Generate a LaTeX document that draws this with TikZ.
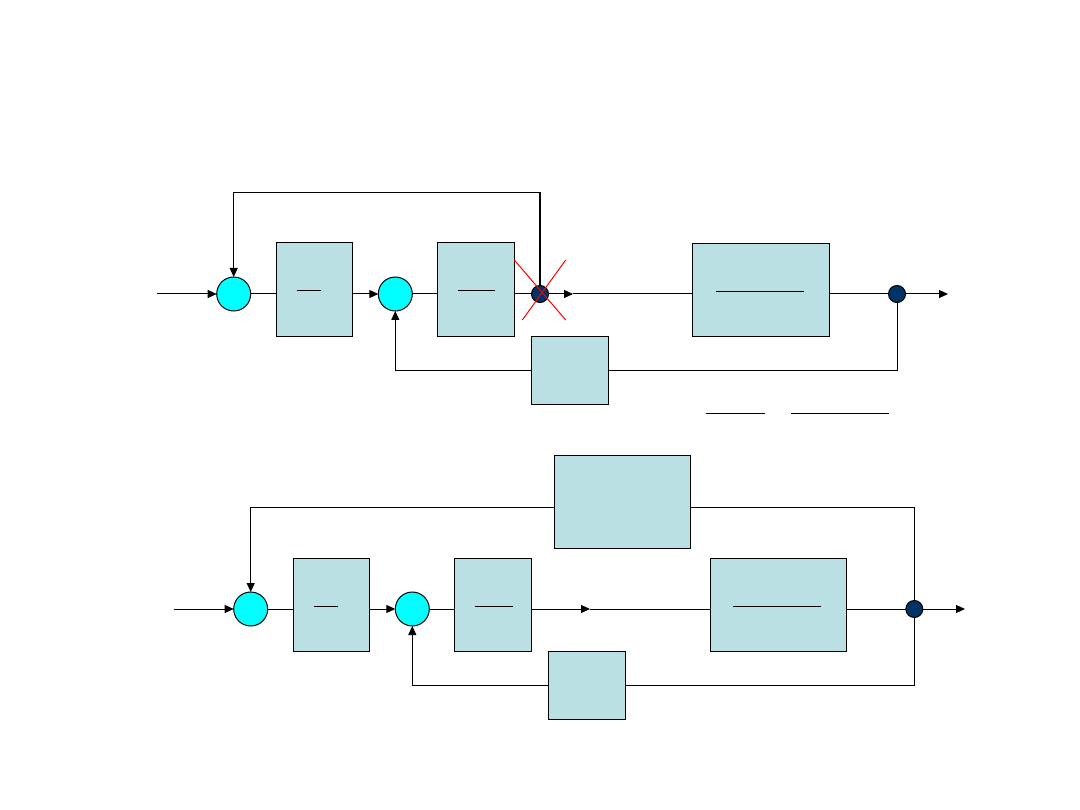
\documentclass[tikz,border=0pt]{standalone}
\usetikzlibrary{arrows.meta}
\definecolor{boxfill}{HTML}{BBE0E3}
\definecolor{sumfill}{HTML}{00FFFF}
\definecolor{dotfill}{HTML}{003366}
\begin{document}
\begin{tikzpicture}[x=1pt,y=-1pt,line width=1pt,
  blk/.style={draw,fill=boxfill,rectangle,inner sep=0pt,outer sep=0pt},
  sumj/.style={draw,fill=sumfill,circle,minimum size=34pt,inner sep=0pt,outer sep=0pt},
  pdot/.style={draw,fill=dotfill,circle,minimum size=17pt,inner sep=0pt,outer sep=0pt},
  arr/.style={-{Triangle[length=9pt,width=8pt]}},
  fbar/.style={line width=1pt}]
\useasboundingbox (0,0) rectangle (1080,810);
% ---------- top diagram ----------
\node[sumj] (s1) at (233.7,294) {};
\node[blk,minimum width=76.5pt,minimum height=93.5pt] (g1) at (314.4,289.7) {};
\node[sumj] (s2) at (395.3,294) {};
\node[blk,minimum width=77.4pt,minimum height=93.5pt] (g2) at (476,289.7) {};
\node[blk,minimum width=137pt,minimum height=93.5pt] (g3) at (761.2,290) {};
\node[blk,minimum width=77.4pt,minimum height=68pt] (h1) at (570,370.3) {};
\node[pdot] (p1) at (540,294) {};
\node[pdot] (o1) at (897,294) {};
\coordinate (in1) at (157,294);
\coordinate (a1) at (573,294);
\coordinate (out1) at (948,294);
\coordinate (tl1) at (233.7,192.3);
\coordinate (fb1) at (897,370.3);
\coordinate (fl1) at (395.3,370.3);
% fraction bars
\draw[fbar] (296.7,291) -- (321,291);
\draw[fbar] (458.3,291) -- (495,291);
\draw[fbar] (716,291.3) -- (804,291.3);
\draw[fbar] (705.7,413.3) -- (764.7,413.3);
\draw[fbar] (791.3,413.3) -- (889.3,413.3);
% connectors
\draw[arr] (in1) -- (s1.west);
\draw (s1.east) -- (s1.east -| g1.west);
\draw[arr] (g1.east |- s2.west) -- (s2.west);
\draw (s2.east) -- (s2.east -| g2.west);
\draw (g2.east |- p1.west) -- (p1.west);
\draw[arr] (p1.east) -- (a1);
\draw (a1) -- (a1 -| g3.west);
\draw (g3.east |- o1.west) -- (o1.west);
\draw[arr] (o1.east) -- (out1);
\draw[line width=2pt] (p1.north) -- (p1.north |- tl1);
\draw[arr] (p1.north |- tl1) -- (tl1) -- (s1.north);
\draw (o1.south) -- (fb1) -- (h1.east);
\draw[arr] (h1.west) -- (fl1) -- (s2.south);
% red cross
\draw[red] (514.3,260) -- (565.7,320);
\draw[red] (565.7,260) -- (522.3,320);
% ---------- bottom diagram ----------
\node[sumj] (s1b) at (250.7,609) {};
\node[blk,minimum width=76pt,minimum height=92.7pt] (g1b) at (331.3,604.7) {};
\node[sumj] (s2b) at (412.3,609) {};
\node[blk,minimum width=77.4pt,minimum height=92.7pt] (g2b) at (493,604.7) {};
\node[blk,minimum width=136pt,minimum height=92.7pt] (g3b) at (778.3,604.7) {};
\node[blk,minimum width=136.4pt,minimum height=93.3pt] (g4b) at (622.5,502.3) {};
\node[blk,minimum width=77pt,minimum height=68pt] (h1b) at (586.8,685.3) {};
\node[pdot] (o1b) at (914.3,609) {};
\coordinate (in2) at (174,609);
\coordinate (a2) at (590,609);
\coordinate (out2) at (965,609);
\coordinate (tr2) at (914.3,507);
\coordinate (tl2) at (250.7,507);
\coordinate (fb2) at (914.3,685.3);
\coordinate (fl2) at (412.3,685.3);
% fraction bars
\draw[fbar] (314,606) -- (338,606);
\draw[fbar] (475.3,606) -- (512.7,606);
\draw[fbar] (733,606) -- (821,606);
% connectors
\draw[arr] (in2) -- (s1b.west);
\draw (s1b.east) -- (s1b.east -| g1b.west);
\draw[arr] (g1b.east |- s2b.west) -- (s2b.west);
\draw (s2b.east) -- (s2b.east -| g2b.west);
\draw[arr] (g2b.east |- a2) -- (a2);
\draw (a2) -- (a2 -| g3b.west);
\draw (g3b.east |- o1b.west) -- (o1b.west);
\draw[arr] (o1b.east) -- (out2);
\draw (o1b.north) -- (tr2) -- (tr2 -| g4b.east);
\draw[arr] (g4b.west |- tl2) -- (tl2) -- (s1b.north);
\draw (o1b.south) -- (fb2) -- (h1b.east);
\draw[arr] (h1b.west) -- (fl2) -- (s2b.south);
\end{tikzpicture}
\end{document}
